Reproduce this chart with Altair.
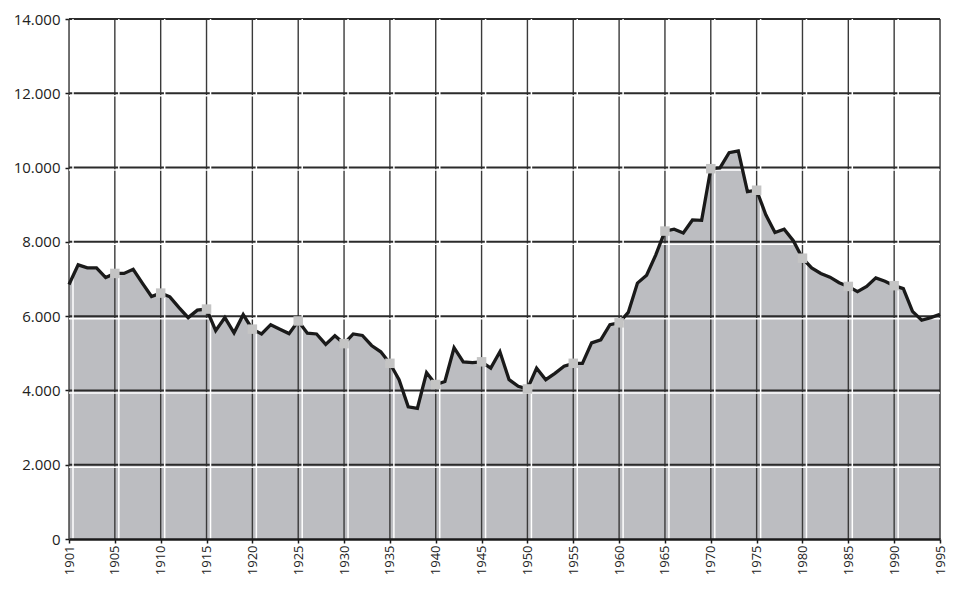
import altair as alt
import pandas as pd

# Values per year position (first position is labelled 1901 on the axis)
values = [
    6850, 7380, 7300, 7300, 7040, 7150, 7150, 7260, 6890, 6530,
    6620, 6520, 6230, 5960, 6160, 6190, 5610, 5960, 5550, 6040,
    5650, 5520, 5770, 5650, 5530, 5870, 5540, 5520, 5240, 5470,
    5260, 5520, 5480, 5210, 5040, 4730, 4290, 3560, 3520, 4480,
    4160, 4240, 5150, 4770, 4750, 4770, 4600, 5040, 4290, 4110,
    4040, 4600, 4290, 4460, 4650, 4730, 4730, 5280, 5360, 5770,
    5820, 6100, 6890, 7100, 7650, 8290, 8340, 8240, 8590, 8580,
    9970, 9990, 10400, 10450, 9350, 9390, 8730, 8250, 8340, 8030,
    7560, 7300, 7150, 7050, 6900, 6800, 6660, 6800, 7030, 6940,
    6820, 6740, 6130, 5890, 5960, 6050,
]
tick_labels = ["1901", "1905", "1910", "1915", "1920", "1925", "1930", "1935",
               "1940", "1945", "1950", "1955", "1960", "1965", "1970", "1975",
               "1980", "1985", "1990", "1995"]
y_ticks = [0, 2000, 4000, 6000, 8000, 10000, 12000, 14000]

n = len(values)
df = pd.DataFrame({"i": list(range(n)), "v": values})
tick_pos = list(range(0, n, 5))
markers = df[df["i"].isin(tick_pos[1:-1])]
vdf = pd.DataFrame({"i": tick_pos})
hdf = pd.DataFrame({"v": y_ticks[1:]})
hdf_white = pd.DataFrame({"v": y_ticks[1:-1]})

label_arr = "[" + ",".join("'%s'" % t for t in tick_labels) + "]"

FONT = "Open Sans"

X = alt.X("i:Q", title=None,
          scale=alt.Scale(domain=[0, n - 1], nice=False, zero=False),
          axis=alt.Axis(values=tick_pos, labelExpr=label_arr + "[round(datum.value/5)]",
                        labelAngle=270, labelAlign="right", labelBaseline="middle",
                        grid=False, domain=True, domainColor="#1a1a1a", domainWidth=2.5,
                        ticks=True, tickSize=4, tickColor="#1a1a1a", tickWidth=1.5,
                        labelPadding=2, labelFont=FONT, labelFontSize=13,
                        labelColor="#222222", zindex=1, labelOverlap=False))
Y = alt.Y("v:Q", title=None,
          scale=alt.Scale(domain=[0, 14000], nice=False),
          axis=alt.Axis(values=y_ticks,
                        labelExpr="replace(format(datum.value, ','), ',', '.')",
                        grid=False, domain=False, ticks=True, tickSize=4,
                        tickColor="#1a1a1a", tickWidth=1.5, labelPadding=5,
                        labelFont=FONT, labelFontSize=15, labelColor="#222222",
                        minExtent=61, maxExtent=61, labelOverlap=False))

area = alt.Chart(df).mark_area(color="#bcbdc1").encode(x=X, y=Y)
vgrid = alt.Chart(vdf).mark_rule(color="#3a3a3a", strokeWidth=1.4).encode(x=X)
hgrid = alt.Chart(hdf).mark_rule(color="#2b2b2b", strokeWidth=2).encode(y=Y)
vwhite = alt.Chart(vdf).mark_rule(color="#ffffff", strokeWidth=1.5, xOffset=4).encode(x=X)
hwhite = alt.Chart(hdf_white).mark_rule(color="#ffffff", strokeWidth=1.5, yOffset=2.5).encode(y=Y)
line = alt.Chart(df).mark_line(color="#1a1a1a", strokeWidth=3.3, strokeJoin="miter").encode(x=X, y=Y)
pts = alt.Chart(markers).mark_square(color="#c4c4c4", opacity=1, size=90).encode(x=X, y=Y)

chart = alt.layer(area, vgrid, hgrid, vwhite, hwhite, line, pts).properties(
    width=871, height=520,
    autosize=alt.AutoSizeParams(type="none"),
    padding={"left": 61, "top": 11, "right": 9, "bottom": 38},
).configure_view(strokeWidth=0).configure(background="#ffffff")

chart.save("out.html", embed_options={"renderer": "svg", "actions": False})
